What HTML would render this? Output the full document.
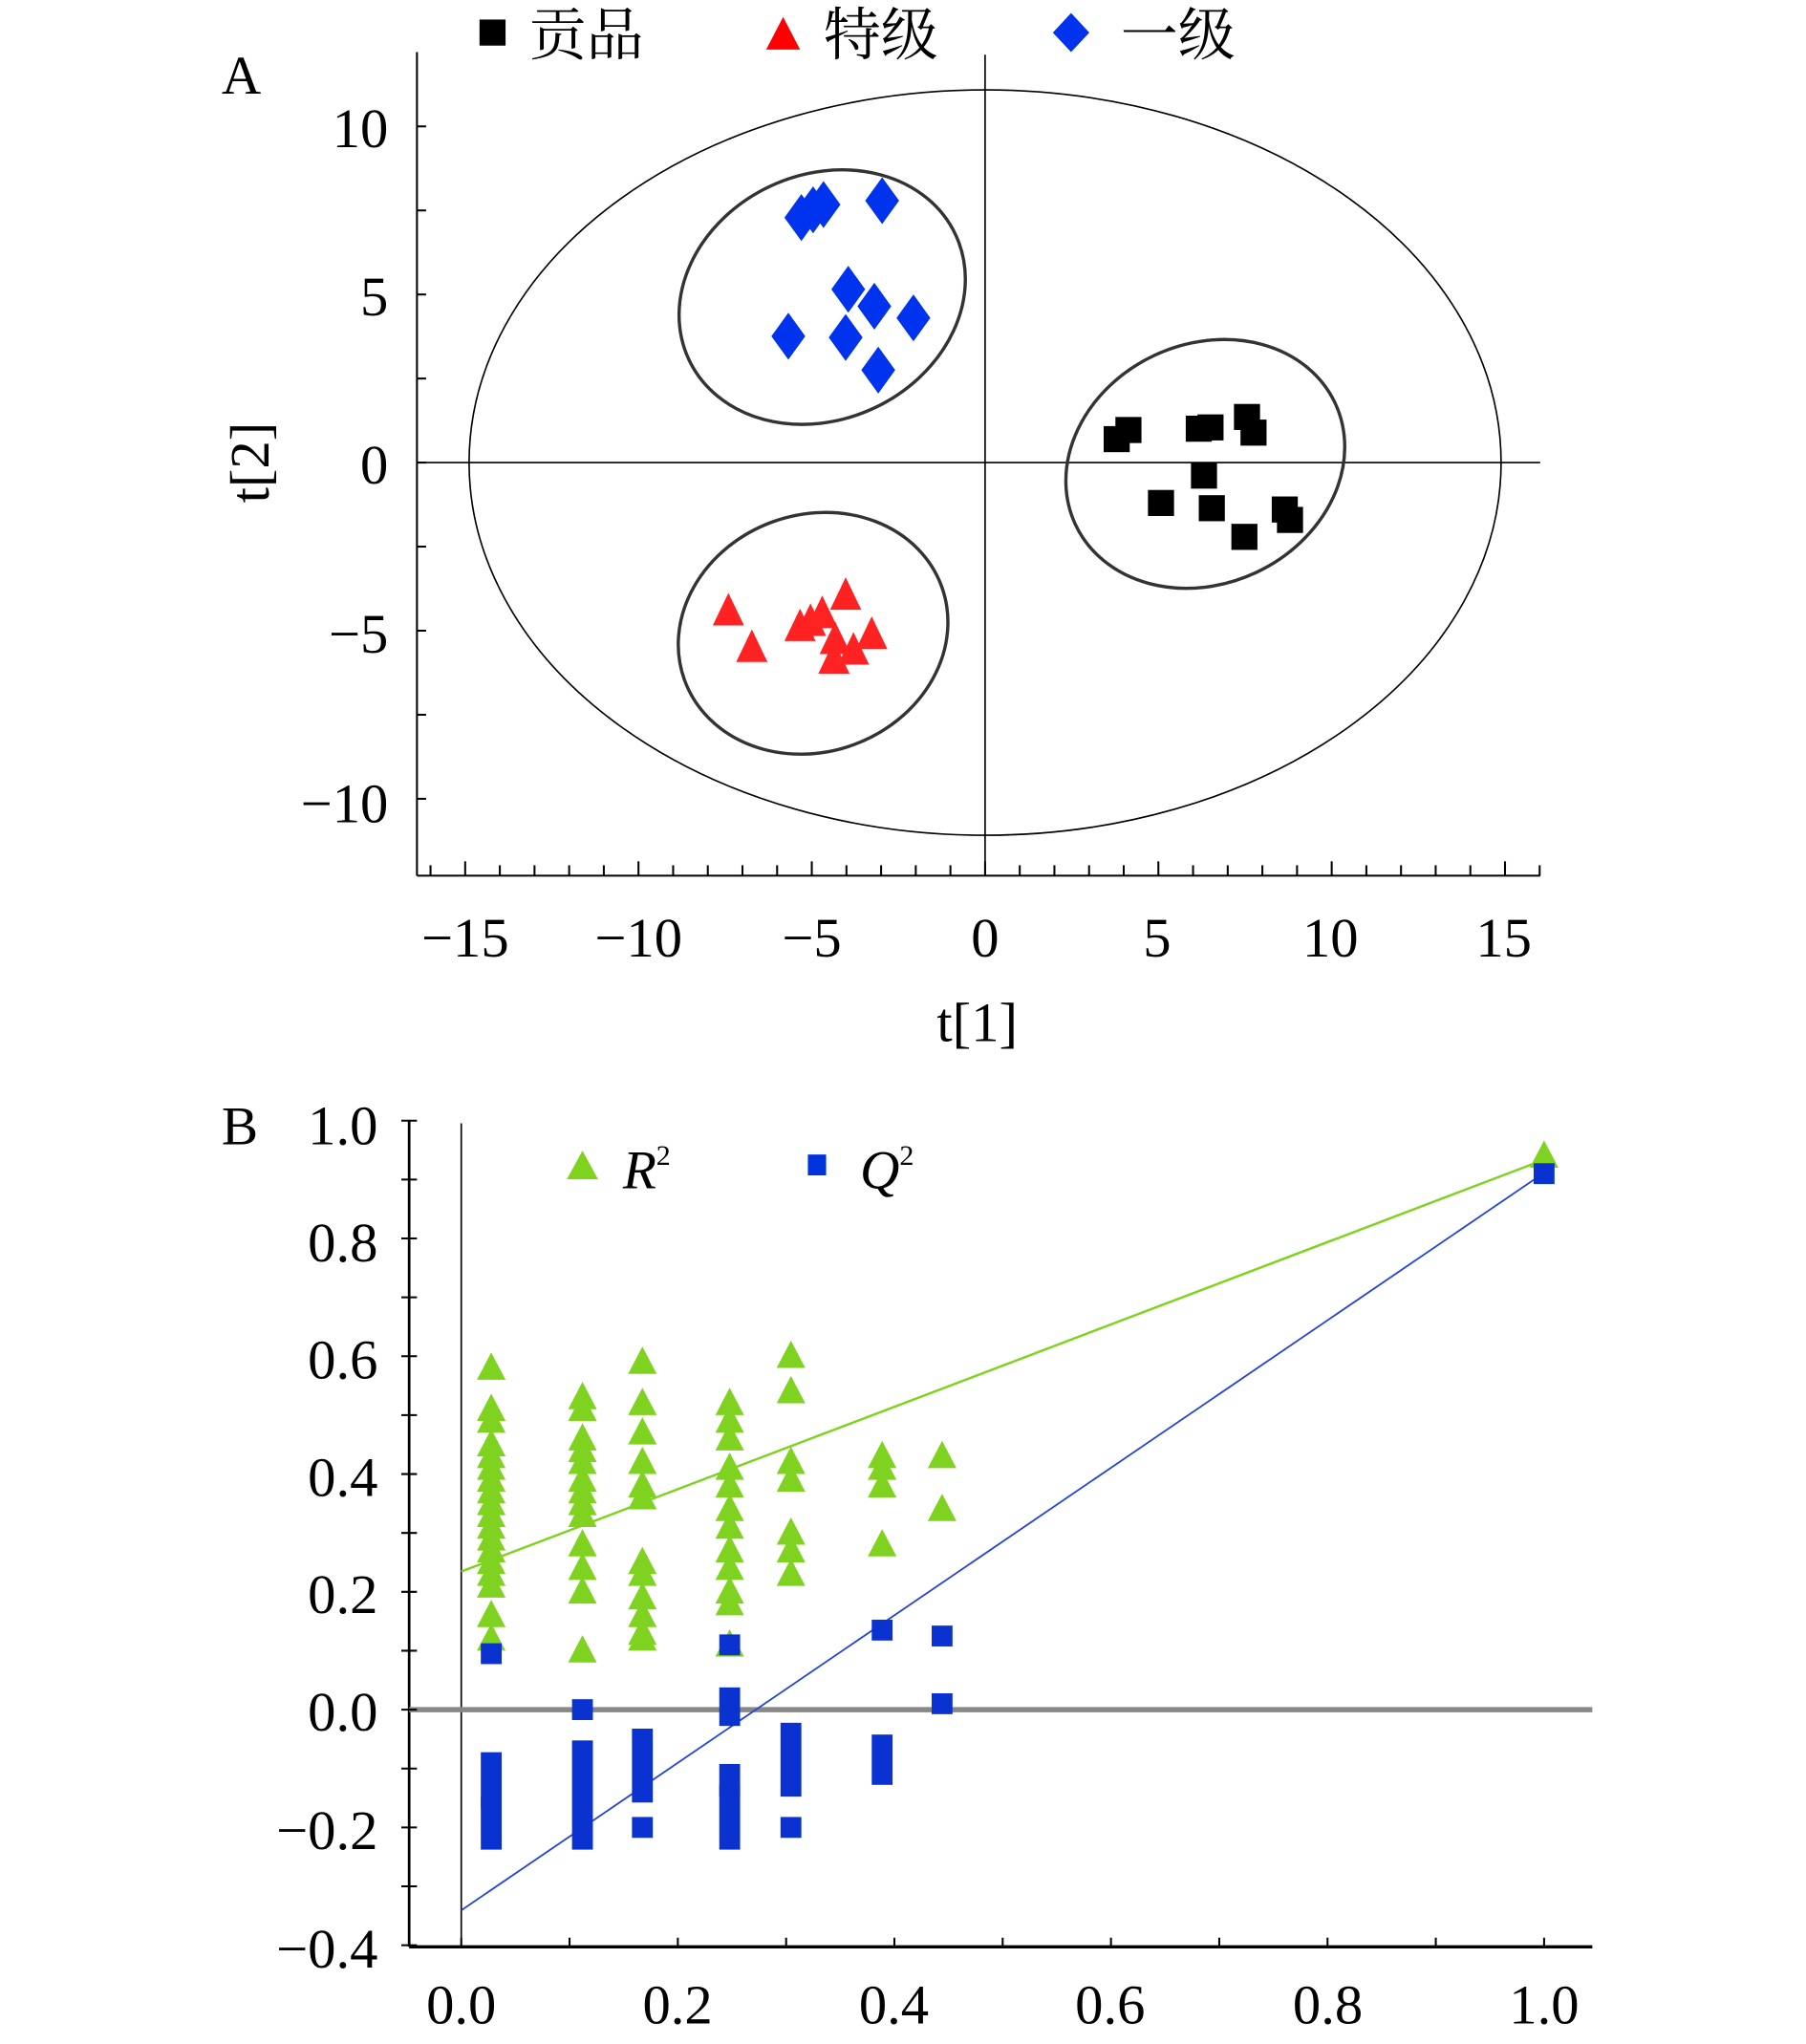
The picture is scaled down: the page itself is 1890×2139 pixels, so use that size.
<!DOCTYPE html>
<html><head><meta charset="utf-8"><style>html,body{margin:0;padding:0;background:#fff}svg{display:block}svg text{font-family:"Liberation Serif","Noto Serif CJK SC",serif}</style></head><body>
<svg width="1890" height="2139" viewBox="0 0 1386 1568.6" xmlns="http://www.w3.org/2000/svg">
<rect width="1386" height="1569" fill="#fff"/>
<g stroke="#000" fill="none">
<line x1="320" y1="40" x2="320" y2="672" stroke-width="1.5"/>
<line x1="320" y1="672" x2="1182" y2="672" stroke-width="1.5"/>
<line x1="756" y1="42" x2="756" y2="672" stroke-width="1.2"/>
<line x1="320" y1="355" x2="1182" y2="355" stroke-width="1.2"/>
<ellipse cx="756" cy="355" rx="396" ry="286" stroke-width="1.2"/>
<ellipse cx="631" cy="228" rx="113" ry="94" transform="rotate(-25 631 228)" stroke="#333" stroke-width="2.5"/>
<ellipse cx="624" cy="486" rx="105" ry="91" transform="rotate(-20 624 486)" stroke="#333" stroke-width="2.5"/>
<ellipse cx="925" cy="356" rx="110" ry="92" transform="rotate(-25 925 356)" stroke="#333" stroke-width="2.5"/>
</g>
<g id="ticksA" stroke="#000" stroke-width="1.5"></g>
<g font-size="43" text-anchor="end" fill="#000">
<text x="298" y="113">10</text><text x="298" y="242">5</text><text x="298" y="371">0</text><text x="298" y="501">−5</text><text x="298" y="631">−10</text>
</g>
<g font-size="43" text-anchor="middle" fill="#000">
<text x="357" y="734">−15</text><text x="490" y="734">−10</text><text x="623" y="734">−5</text><text x="756" y="734">0</text><text x="888" y="734">5</text><text x="1021" y="734">10</text><text x="1154" y="734">15</text>
<text x="750" y="799">t[1]</text>
<text x="0" y="0" transform="translate(206 355) rotate(-90)">t[2]</text>
</g>
<text x="170" y="72" font-size="42">A</text>
<rect x="368" y="15" width="20" height="20" fill="#000"/>
<text x="406" y="42" font-size="44">贡品</text>
<polygon points="601,13 614,38 588,38" fill="#f00"/>
<text x="632" y="42" font-size="44">特级</text>
<polygon points="822,10 836,25 822,40 808,25" fill="#0033ee"/>
<text x="860" y="42" font-size="44">一级</text>
<g id="ptsA"></g>
<g stroke="#000" fill="none">
<line x1="314" y1="860" x2="314" y2="1494" stroke-width="2"/>
<line x1="314" y1="1494" x2="1222" y2="1494" stroke-width="2.5"/>
<line x1="354" y1="862" x2="354" y2="1494" stroke-width="1.2"/>
<line x1="314" y1="1312" x2="1222" y2="1312" stroke="#888" stroke-width="4"/>
<line x1="354" y1="1206" x2="1185" y2="890" stroke="#7fd320" stroke-width="1.8"/>
<line x1="354" y1="1466" x2="1185" y2="900" stroke="#2244dd" stroke-width="1.3"/>
</g>
<g id="ticksB" stroke="#000" stroke-width="1.5"></g>
<g font-size="43" text-anchor="end" fill="#000">
<text x="290" y="878">1.0</text><text x="290" y="968">0.8</text><text x="290" y="1058">0.6</text><text x="290" y="1148">0.4</text><text x="290" y="1238">0.2</text><text x="290" y="1328">0.0</text><text x="290" y="1419">−0.2</text><text x="290" y="1510">−0.4</text>
</g>
<g font-size="43" text-anchor="middle" fill="#000">
<text x="354" y="1553">0.0</text><text x="520" y="1553">0.2</text><text x="686" y="1553">0.4</text><text x="852" y="1553">0.6</text><text x="1019" y="1553">0.8</text><text x="1185" y="1553">1.0</text>
</g>
<text x="170" y="878" font-size="42">B</text>
<polygon points="447,883 459,905 435,905" fill="#7fd320"/>
<text x="478" y="912" font-size="42" font-style="italic">R<tspan font-size="22" dy="-18" font-style="normal">2</tspan></text>
<rect x="620" y="886" width="14" height="16" fill="#0033dd"/>
<text x="660" y="912" font-size="42" font-style="italic">Q<tspan font-size="22" dy="-18" font-style="normal">2</tspan></text>
<g id="ptsB"></g>
<script>
var NS="http://www.w3.org/2000/svg";
function el(p,t,a){var e=document.createElementNS(NS,t);for(var k in a)e.setAttribute(k,a[k]);document.getElementById(p).appendChild(e);}
for(var i=-16;i<=16;i++){var x=756+i*26.6;if(x<318||x>1184)continue;el("ticksA","line",{x1:x,y1:672,x2:x,y2:(i%5==0?661:664)});}
for(var v=-12.5;v<=12.5;v+=2.5){var y=355-v*25.8;if(y<40||y>672)continue;el("ticksA","line",{x1:320,y1:y,x2:327,y2:y});}
var bl=[[615,167],[624,161],[632,157],[677,154],[651,222],[671,235],[701,244],[605,258],[649,259],[674,284]];
bl.forEach(function(p){el("ptsA","polygon",{points:(p[0])+","+(p[1]-18)+" "+(p[0]+13)+","+p[1]+" "+p[0]+","+(p[1]+18)+" "+(p[0]-13)+","+p[1],fill:"#0033ee"});});
var bk=[[857,337],[866,330],[920,329],[929,328],[957,320],[962,332],[924,365],[891,386],[930,390],[955,412],[986,391],[990,399]];
bk.forEach(function(p){el("ptsA","rect",{x:p[0]-10,y:p[1]-10,width:20,height:20,fill:"#000"});});
var rd=[[559,470],[577,498],[622,478],[631,472],[649,458],[641,492],[669,488],[640,507],[655,500],[614,482]];
rd.forEach(function(p){el("ptsA","polygon",{points:p[0]+","+(p[1]-15)+" "+(p[0]+12)+","+(p[1]+10)+" "+(p[0]-12)+","+(p[1]+10),fill:"#f22"});});
for(var v=-0.4;v<=1.001;v+=0.1){var y=1312-v*452;el("ticksB","line",{x1:308,y1:y,x2:320,y2:y});}
for(var v=0;v<=1.001;v+=0.1){var x=354+v*831;el("ticksB","line",{x1:x,y1:1494,x2:x,y2:1487});}
var g={377:[0.58,0.51,0.49,0.45,0.43,0.41,0.39,0.37,0.35,0.33,0.31,0.29,0.27,0.25,0.23,0.21,0.16,0.12],447:[0.53,0.51,0.46,0.44,0.42,0.39,0.37,0.35,0.33,0.28,0.24,0.20,0.10],493:[0.59,0.52,0.47,0.42,0.38,0.36,0.25,0.23,0.19,0.16,0.13,0.12],560:[0.52,0.49,0.46,0.41,0.38,0.34,0.31,0.27,0.24,0.20,0.18,0.11],607:[0.60,0.54,0.42,0.39,0.30,0.27,0.23],677:[0.43,0.41,0.38,0.28],723:[0.43,0.34],1185:[0.94]};
for(var k in g){g[k].forEach(function(v){var x=+k,y=1312-v*452;el("ptsB","polygon",{points:x+","+(y-12)+" "+(x+11)+","+(y+9)+" "+(x-11)+","+(y+9),fill:"#7fd320"});});}
var q=[[377,0.095,0.095],[377,-0.09,-0.15],[377,-0.165,-0.22],[447,0.0,0.0],[447,-0.07,-0.22],[493,-0.05,-0.14],[493,-0.2,-0.2],[560,0.11,0.11],[560,0.02,-0.01],[560,-0.11,-0.13],[560,-0.145,-0.22],[607,-0.04,-0.13],[607,-0.2,-0.2],[677,0.135,0.135],[677,-0.06,-0.11],[723,0.125,0.125],[723,0.01,0.01],[1185,0.91,0.91]];
q.forEach(function(p){var y1=1312-p[1]*452-8,y2=1312-p[2]*452+8;el("ptsB","rect",{x:p[0]-8,y:y1,width:16,height:y2-y1,fill:"#0a32d0"});});
</script>
</svg>
</body></html>
